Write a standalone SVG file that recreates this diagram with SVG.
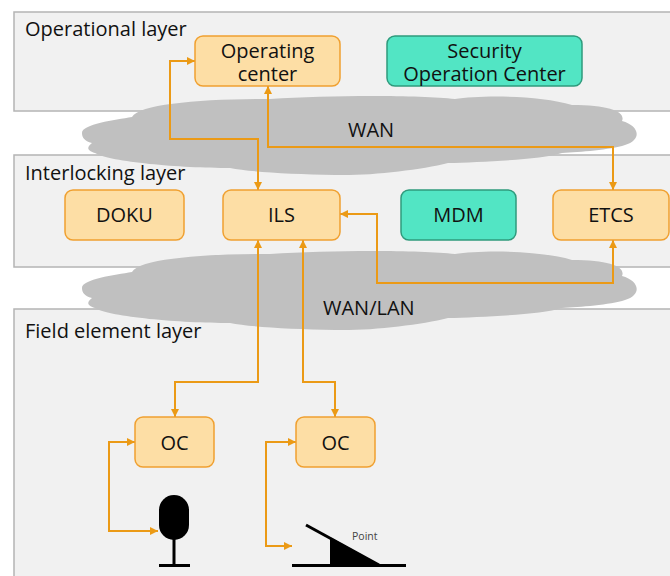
<svg xmlns="http://www.w3.org/2000/svg" width="670" height="576" viewBox="0 0 670 576">
<style>
.layer{fill:#f1f1f1;stroke:#b4b4b4;stroke-width:1.5}
.lbl{font-family:"Open Sans","Noto Sans",sans-serif;font-size:20px;fill:#111}
.node{fill:#fddea5;stroke:#f0a030;stroke-width:1.5}
.sec{fill:#52e5c4;stroke:#2f9a7c;stroke-width:1.5}
.nt{font-family:"Open Sans","Noto Sans",sans-serif;font-size:20px;fill:#111;text-anchor:middle}
.cloud{fill:#c0c0c0}
.conn{fill:none;stroke:#eb9a16;stroke-width:2;marker-start:url(#arr);marker-end:url(#arr)}
</style>
<defs>
<marker id="arr" viewBox="0 0 8 8" refX="8" refY="4" markerWidth="8" markerHeight="8" markerUnits="userSpaceOnUse" orient="auto-start-reverse">
<path d="M0,0 L8,4 L0,8 z" fill="#eb9a16"/>
</marker>
<path id="cloudshape" d="M 82,133 C 82,124 115,120 132,117 C 140,104 200,99 270,99 C 330,95 420,95 455,99 C 480,95 540,95 572,105 C 610,105 626,112 622,121 C 640,126 642,140 625,145 C 610,150 580,152 562,153 C 540,160 480,162 448,163 C 420,170 370,176 335,175 C 290,174 250,172 230,168 C 180,168 110,162 95,153 C 85,150 88,146 92,143 C 84,141 82,137 82,133 Z"/>
</defs>
<rect width="670" height="576" fill="#fff"/>
<g id="layers">
<rect class="layer" x="14" y="12" width="670" height="99"/>
<text class="lbl" x="25" y="36">Operational layer</text>
<rect class="layer" x="14" y="155" width="670" height="112"/>
<rect class="layer" x="14" y="309" width="670" height="280"/>
</g>
<g id="clouds">
<use href="#cloudshape" class="cloud"/>
<use href="#cloudshape" class="cloud" transform="translate(0,155)"/>
<text class="lbl" x="348" y="137">WAN</text>
<text class="lbl" x="323" y="315">WAN/LAN</text>
</g>
<g id="layer-labels">
<text class="lbl" x="25" y="180">Interlocking layer</text>
<text class="lbl" x="25" y="338">Field element layer</text>
</g>
<g id="connectors">
<path class="conn" d="M 195,61 H 170 V 139 H 258 V 190"/>
<path class="conn" d="M 268,86 V 147 H 613 V 190"/>
<path class="conn" d="M 340,214 H 377 V 283 H 613 V 240"/>
<path class="conn" d="M 258,240 V 382 H 175 V 417"/>
<path class="conn" d="M 303,240 V 382 H 335 V 417"/>
<path class="conn" d="M 135,442 H 109 V 531 H 158"/>
<path class="conn" d="M 296,442 H 266 V 546 H 292"/>
</g>
<g id="operating-center">
<rect class="node" x="195" y="36" width="145" height="50" rx="8"/>
<text class="nt"><tspan x="267.5" y="57.5">Operating</tspan><tspan x="267.5" y="80.5">center</tspan></text>
</g>
<g id="soc">
<rect class="sec" x="387" y="36" width="195" height="50" rx="8"/>
<text class="nt"><tspan x="484.5" y="57.5">Security</tspan><tspan x="484.5" y="80.5">Operation Center</tspan></text>
</g>
<g id="doku">
<rect class="node" x="65" y="190" width="119" height="50" rx="8"/>
<text class="nt" x="124.5" y="222">DOKU</text>
</g>
<g id="ils">
<rect class="node" x="223" y="190" width="117" height="50" rx="8"/>
<text class="nt" x="281.5" y="222">ILS</text>
</g>
<g id="mdm">
<rect class="sec" x="401" y="190" width="115" height="50" rx="8"/>
<text class="nt" x="458.5" y="222">MDM</text>
</g>
<g id="etcs">
<rect class="node" x="553" y="190" width="116" height="50" rx="8"/>
<text class="nt" x="611" y="222">ETCS</text>
</g>
<g id="oc1">
<rect class="node" x="135" y="417" width="79" height="50" rx="8"/>
<text class="nt" x="174.5" y="449.5">OC</text>
</g>
<g id="oc2">
<rect class="node" x="296" y="417" width="79" height="50" rx="8"/>
<text class="nt" x="335.5" y="449.5">OC</text>
</g>
<g id="signal">
<rect x="159" y="495" width="30" height="45" rx="15" fill="#000"/>
<line x1="174" y1="538" x2="174" y2="565" stroke="#000" stroke-width="3"/>
<line x1="159" y1="565.5" x2="190" y2="565.5" stroke="#000" stroke-width="3"/>
</g>
<g id="point">
<line x1="292" y1="565.5" x2="406" y2="565.5" stroke="#000" stroke-width="3"/>
<line x1="306" y1="525" x2="379" y2="565" stroke="#000" stroke-width="3"/>
<polygon points="330,537 330,565 380,565" fill="#000"/>
<text x="352" y="540" font-family="'Open Sans','Noto Sans',sans-serif" font-size="10.5" fill="#444">Point</text>
</g>
</svg>
